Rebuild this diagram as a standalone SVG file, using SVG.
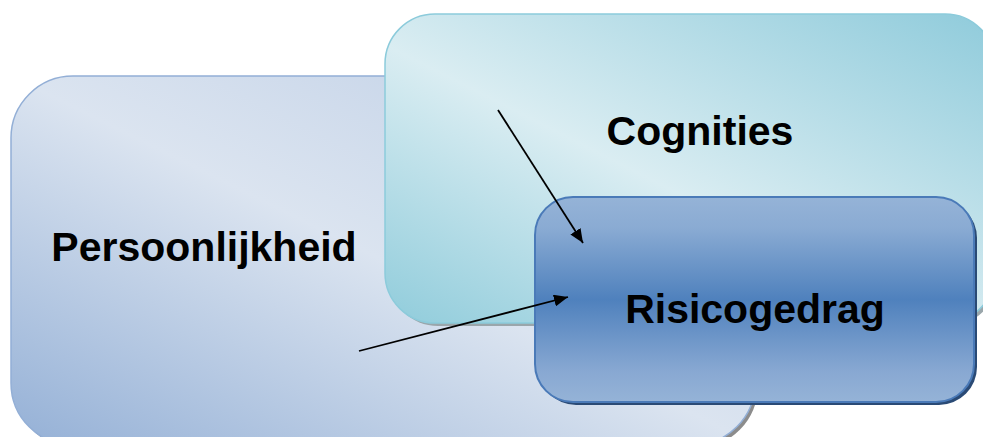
<svg xmlns="http://www.w3.org/2000/svg" width="983" height="437" viewBox="0 0 983 437">
<defs>
<linearGradient id="gP" x1="0" y1="1" x2="1" y2="0">
<stop offset="0" stop-color="#94b0d6"/>
<stop offset="0.5" stop-color="#dbe4f0"/>
<stop offset="1" stop-color="#bccde5"/>
</linearGradient>
<linearGradient id="gC" x1="0" y1="1" x2="1" y2="0">
<stop offset="0" stop-color="#90ccdb"/>
<stop offset="0.45" stop-color="#daedf2"/>
<stop offset="1" stop-color="#8fcbdb"/>
</linearGradient>
<linearGradient id="gR" x1="0" y1="0" x2="0" y2="1">
<stop offset="0" stop-color="#95b3d7"/>
<stop offset="0.15" stop-color="#8aabd3"/>
<stop offset="0.5" stop-color="#4f81bd"/>
<stop offset="0.85" stop-color="#88a8d2"/>
<stop offset="1" stop-color="#95b3d7"/>
</linearGradient>
<marker id="ah" viewBox="0 0 14 12" refX="14" refY="6" markerWidth="14" markerHeight="12" markerUnits="userSpaceOnUse" orient="auto">
<path d="M0,0 L14,6 L0,12 Z" fill="#000"/>
</marker>
<style>
.lbl{font-family:"Liberation Sans",Arial,sans-serif;font-weight:bold;font-size:41px;fill:#000;text-anchor:middle}
.conn{stroke:#000;stroke-width:1.8;fill:none;marker-end:url(#ah)}
</style>
</defs>
<g id="persoonlijkheid">
<rect x="14" y="79" width="744" height="369" rx="62" ry="62" fill="#8c8c8c"/>
<rect x="11" y="76" width="744" height="369" rx="62" ry="62" fill="url(#gP)" stroke="#93afd6" stroke-width="1.5"/>
<text class="lbl" x="204" y="261">Persoonlijkheid</text>
</g>
<g id="cognities">
<rect x="388" y="17" width="610" height="309" rx="50" ry="50" fill="#9aa6ab"/>
<rect x="385" y="14" width="610" height="309" rx="50" ry="50" fill="url(#gC)" stroke="#8ccbdb" stroke-width="1.5"/>
<text class="lbl" x="700" y="145">Cognities</text>
</g>
<g id="risicogedrag">
<rect x="538" y="200" width="439" height="205" rx="38" ry="38" fill="#2a4a75"/>
<rect x="535" y="197" width="439" height="205" rx="38" ry="38" fill="url(#gR)" stroke="#4a7ab8" stroke-width="2"/>
<text class="lbl" x="755" y="323">Risicogedrag</text>
</g>
<g id="connectors">
<line class="conn" x1="498" y1="110" x2="583" y2="243"/>
<line class="conn" x1="359" y1="351" x2="568" y2="297"/>
</g>
</svg>
